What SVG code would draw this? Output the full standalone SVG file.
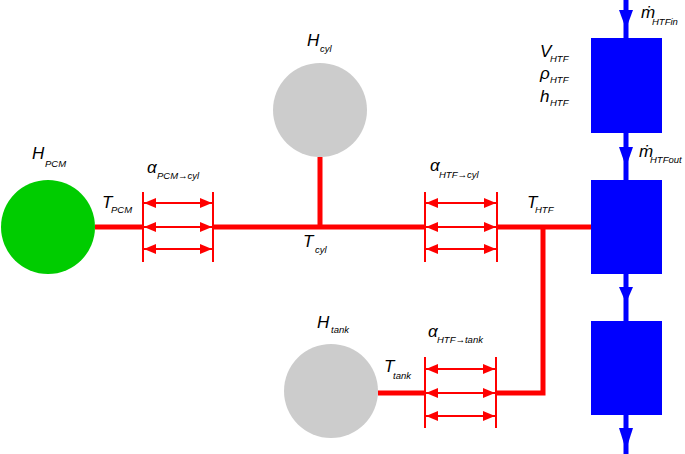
<svg xmlns="http://www.w3.org/2000/svg" width="685" height="454" viewBox="0 0 685 454">
<style>
.t{font-family:"Liberation Sans",Arial,sans-serif;font-style:italic;fill:#000}
.m{font-size:17px}
.s{font-size:9.5px}
.pipe{stroke:#ff0000;stroke-width:5;fill:none}
.br{stroke:#ff0000;stroke-width:2;fill:none}
.ar{stroke:#ff0000;stroke-width:2;fill:none;marker-start:url(#rh);marker-end:url(#rh)}
.blue{stroke:#0000ff;stroke-width:5;fill:none}
.bh{fill:#0000ff}
</style>
<defs>
<marker id="rh" markerUnits="userSpaceOnUse" markerWidth="12" markerHeight="10" refX="12" refY="5" orient="auto-start-reverse" viewBox="0 0 12 10">
<path d="M0,0 L12,5 L0,10 z" fill="#ff0000" stroke="none"/>
</marker>
</defs>
<rect width="685" height="454" fill="#fff"/>
<g id="connectors">
<path class="pipe" d="M95,227 H143 M213,227 H425 M497,227 H591 M320,157 V227 M543,227 V393 H496 M378,393 H425"/>
<g id="bracket1">
<path class="br" d="M143,192 V262 M213,192 V262"/>
<line class="ar" x1="144" y1="203" x2="212" y2="203"/>
<line class="ar" x1="144" y1="227" x2="212" y2="227"/>
<line class="ar" x1="144" y1="249" x2="212" y2="249"/>
</g>
<g id="bracket2">
<path class="br" d="M425,192 V262 M497,192 V262"/>
<line class="ar" x1="426" y1="203" x2="496" y2="203"/>
<line class="ar" x1="426" y1="227" x2="496" y2="227"/>
<line class="ar" x1="426" y1="249" x2="496" y2="249"/>
</g>
<g id="bracket3">
<path class="br" d="M425,357 V428 M496,357 V428"/>
<line class="ar" x1="426" y1="369" x2="495" y2="369"/>
<line class="ar" x1="426" y1="393" x2="495" y2="393"/>
<line class="ar" x1="426" y1="416" x2="495" y2="416"/>
</g>
<path class="blue" d="M626,0 V38 M626,133 V180 M626,274 V321 M626,415 V454"/>
<polygon class="bh" points="619,10 633,10 626,29"/>
<polygon class="bh" points="619,147 633,147 626,167"/>
<polygon class="bh" points="619,287 633,287 626,303"/>
<polygon class="bh" points="619,428 633,428 626,450"/>
</g>
<g id="pcm">
<circle cx="48" cy="227" r="47" fill="#00cc00"/>
<text class="t m" x="32" y="159">H</text><text class="t s" x="45" y="167">PCM</text>
<text class="t m" x="102" y="208">T</text><text class="t s" x="111" y="213">PCM</text>
</g>
<g id="cyl">
<circle cx="320" cy="110" r="47" fill="#cccccc"/>
<text class="t m" x="307" y="46">H</text><text class="t s" x="320" y="52">cyl</text>
<text class="t m" x="303" y="247">T</text><text class="t s" x="315" y="253">cyl</text>
</g>
<g id="tank">
<circle cx="331" cy="391" r="47" fill="#cccccc"/>
<text class="t m" x="317" y="328">H</text><text class="t s" x="331" y="333">tank</text>
<text class="t m" x="384" y="372">T</text><text class="t s" x="393" y="379">tank</text>
</g>
<g id="labels">
<text class="t m" x="147" y="173">α</text><text class="t s" x="157" y="179">PCM→cyl</text>
<text class="t m" x="430" y="171">α</text><text class="t s" x="439" y="178">HTF→cyl</text>
<text class="t m" x="428" y="337">α</text><text class="t s" x="437" y="343">HTF→tank</text>
<text class="t m" x="527" y="208">T</text><text class="t s" x="535" y="213">HTF</text>
</g>
<g id="htf1">
<rect x="591" y="38" width="71" height="95" fill="#0000ff"/>
<text class="t m" x="540" y="57">V</text><text class="t s" x="550" y="62">HTF</text>
<text class="t m" x="540" y="79">ρ</text><text class="t s" x="550" y="83">HTF</text>
<text class="t m" x="540" y="102">h</text><text class="t s" x="550" y="106">HTF</text>
<text class="t m" x="641" y="18">ṁ</text><text class="t s" x="652" y="25">HTFin</text>
<text class="t m" x="639" y="157">ṁ</text><text class="t s" x="650" y="163">HTFout</text>
</g>
<g id="htf2">
<rect x="591" y="180" width="71" height="94" fill="#0000ff"/>
</g>
<g id="htf3">
<rect x="591" y="321" width="71" height="94" fill="#0000ff"/>
</g>
</svg>
